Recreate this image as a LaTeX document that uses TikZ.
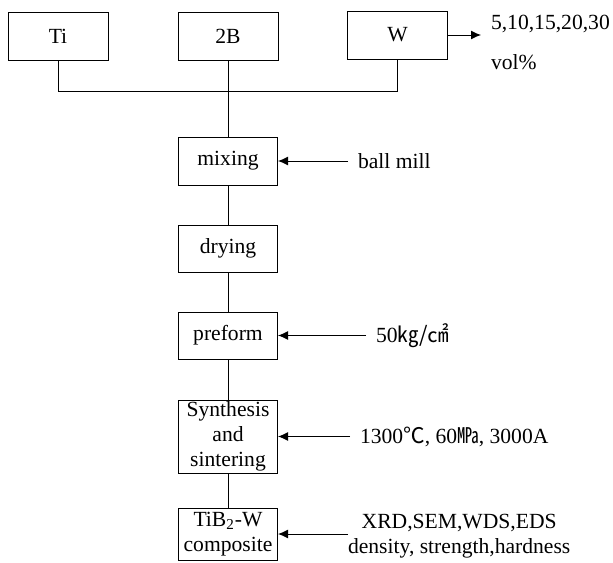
\documentclass[tikz,border=0pt]{standalone}
\usepackage{fontspec}
\setmainfont{Liberation Serif}
\newfontfamily\cjk{Noto Sans CJK SC}
\usetikzlibrary{arrows.meta}

\begin{document}
\begin{tikzpicture}[
    x=0.5pt, y=-0.5pt,
    line width=0.5pt,
    every node/.style={font=\fontsize{10.8pt}{12.5pt}\selectfont},
    box/.style={draw, minimum width=49.5pt, minimum height=24pt, inner sep=0.5pt, align=center},
    lbl/.style={anchor=west, inner sep=0pt, outer sep=5pt},
    arrow/.style={-{Latex[length=5pt, width=4.5pt]}}
]
    \useasboundingbox (0,0) rectangle (613,562);

    % ---- Powders ----
    \node[box, minimum width=50pt] (ti) at (58,36) {Ti};
    \node[box, minimum width=50pt] (b2) at (228,36) {2B};
    \node[box, minimum width=50pt] (w) at (397.5,35) {W};

    % ---- Process steps ----
    \node[box] (mix) at (228,161) {mixing};
    \node[box, minimum height=23.5pt] (dry) at (228,248.5) {drying};
    \node[box, minimum height=23.5pt] (pre) at (228,335.5) {preform};
    \node[box, minimum height=36.5pt] (syn) at (228,436.5) {Synthesis\\and\\sintering};
    \node[box, minimum height=26pt] (comp) at (228,534) {TiB\textsubscript{2}-W\\composite};

    % ---- Flow ----
    \coordinate (jn) at (228,91.5);
    \draw (ti.south) |- (jn) -| (w.south);
    \draw (b2.south) -- (mix.north);
    \draw (mix.south) -- (dry.north);
    \draw (dry.south) -- (pre.north);
    \draw (pre.south) -- (syn.north);
    \draw (syn.south) -- (comp.north);

    % ---- Conditions ----
    \coordinate (wend) at (481,35);
    \draw[arrow] (w.east) -- (wend);
    \node[lbl, outer sep=0pt] (vf) at (491,24) {5,10,15,20,30};
    \node[lbl, outer sep=0pt] (vol) at (491,62) {vol\%};

    \node[lbl] (ball) at (348,161) {ball mill};
    \draw[arrow] (ball.west) -- (mix.east);

    \node[lbl] (press) at (366,335.5) {50{\cjk ㎏/㎠}};
    \draw[arrow] (press.west) -- (pre.east);

    \node[lbl] (sint) at (350,436.5) {1300{\cjk ℃}, 60{\cjk ㎫}, 3000A};
    \draw[arrow] (sint.west) -- (syn.east);

    \node[lbl, outer sep=0pt, align=center, text depth=0pt] (test) at (348,534)
        {XRD,SEM,WDS,EDS\\density, strength,hardness};
    \draw[arrow] (test.west) -- (comp.east);

\end{tikzpicture}
\end{document}
